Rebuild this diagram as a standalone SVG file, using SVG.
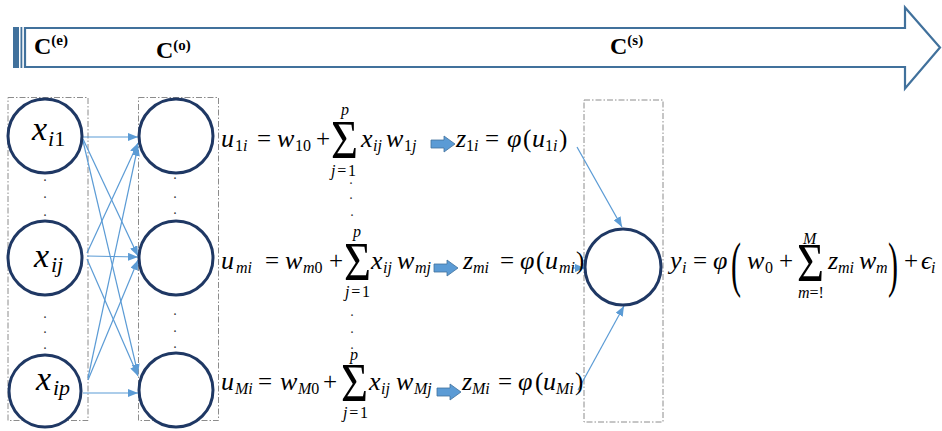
<svg xmlns="http://www.w3.org/2000/svg" width="942" height="431" viewBox="0 0 942 431">
<style>
.band{fill:#fff;stroke:#41719c;stroke-width:2.2;stroke-linejoin:miter}
.stripe{fill:#41719c}
.lbl{font-family:"Liberation Serif",serif;font-weight:bold;fill:#000}
.grp{fill:none;stroke:#8c8c8c;stroke-width:1;stroke-dasharray:6 2 1.5 2}
.node{fill:#fff;stroke:#1f3864;stroke-width:3}
.conn line{stroke:#5b9bd5;stroke-width:1.2;marker-end:url(#ah)}
.mi{font-family:"Liberation Serif","DejaVu Serif",serif;font-style:italic;font-size:26px;fill:#000}
.big{font-family:"Liberation Serif","DejaVu Serif",serif;font-style:italic;font-size:34px;fill:#000}
.bsb{font-family:"Liberation Serif","DejaVu Serif",serif;font-size:22px;fill:#000}
.sb{font-family:"Liberation Serif","DejaVu Serif",serif;font-size:16px;fill:#000}
.it{font-style:italic}
.op{font-family:"Liberation Serif",serif;font-size:25px;fill:#000}
.par{font-family:"Liberation Serif",serif;font-size:62px;fill:#000}
.sig{font-family:"Liberation Serif",serif;font-size:55px;fill:#000}
.lim{font-family:"Liberation Serif","DejaVu Serif",serif;font-size:16px;fill:#000}
.dot{font-family:"Liberation Serif",serif;font-size:14px;fill:#333;text-anchor:middle}
.blk{fill:#5b9bd5;stroke:#41719c;stroke-width:0.8}
</style>
<defs>
<marker id="ah" viewBox="0 0 10 8" refX="10" refY="4" markerWidth="10" markerHeight="8" markerUnits="userSpaceOnUse" orient="auto"><path d="M0,0 L10,4 L0,8 z" fill="#5b9bd5"/></marker>
<path id="blkarrow" d="M0,-4 H13 V-8 L24,0 L13,8 V4 H0 z"/>
</defs>
<rect width="942" height="431" fill="#fff"/>

<g id="timeline">
<rect class="stripe" x="13" y="27" width="6" height="41"/>
<rect class="stripe" x="20.5" y="27" width="1.8" height="41"/>
<path class="band" d="M25,28 H905 V7.5 L940,47.5 L905,88.5 V67 H25 z"/>
<text class="lbl" x="34" y="54" font-size="24">C<tspan font-size="15" dy="-9">(e)</tspan></text>
<text class="lbl" x="156" y="58" font-size="24">C<tspan font-size="15" dy="-8">(o)</tspan></text>
<text class="lbl" x="610" y="54" font-size="24">C<tspan font-size="15" dy="-9">(s)</tspan></text>
</g>

<g id="groups">
<rect class="grp" x="8" y="97.5" width="80" height="323"/>
<rect class="grp" x="138.5" y="97.5" width="80" height="323"/>
<rect class="grp" x="584" y="100" width="79" height="322"/>
</g>

<g id="connectors" class="conn">
<line x1="83" y1="137" x2="138" y2="137"/>
<line x1="83" y1="139" x2="138" y2="256"/>
<line x1="83" y1="141" x2="138" y2="374"/>
<line x1="87" y1="253" x2="138" y2="143"/>
<line x1="87" y1="256" x2="138" y2="257"/>
<line x1="87" y1="259" x2="138" y2="376"/>
<line x1="88" y1="378" x2="138" y2="146"/>
<line x1="88" y1="380" x2="138" y2="260"/>
<line x1="83" y1="393" x2="138" y2="393"/>
<line x1="577" y1="147" x2="622" y2="227"/>
<line x1="572" y1="268" x2="585" y2="268"/>
<line x1="578" y1="390" x2="624" y2="306"/>
</g>

<g id="x_i1"><circle class="node" cx="45" cy="136" r="37"/><text class="big" x="32" y="140">x</text><text class="bsb" x="48" y="146"><tspan class="it">i</tspan>1</text></g>
<g id="x_ij"><circle class="node" cx="45" cy="258" r="37"/><text class="big" x="34" y="267">x</text><text class="bsb it" x="51" y="272">ij</text></g>
<g id="x_ip"><circle class="node" cx="45" cy="391" r="36"/><text class="big" x="36" y="390">x</text><text class="bsb it" x="53" y="395">ip</text></g>
<g id="h_1"><circle class="node" cx="176" cy="136" r="37"/></g>
<g id="h_m"><circle class="node" cx="176" cy="258" r="37"/></g>
<g id="h_M"><circle class="node" cx="176" cy="390" r="37"/></g>
<g id="y_out"><circle class="node" cx="623" cy="267" r="38"/></g>

<g id="dots">
<text class="dot" x="45" y="181">.</text><text class="dot" x="45" y="198">.</text><text class="dot" x="45" y="216">.</text>
<text class="dot" x="45" y="318">.</text><text class="dot" x="45" y="333">.</text><text class="dot" x="45" y="349">.</text>
<text class="dot" x="175" y="179">.</text><text class="dot" x="175" y="198">.</text><text class="dot" x="175" y="214">.</text>
<text class="dot" x="175" y="315">.</text><text class="dot" x="175" y="332">.</text><text class="dot" x="175" y="348">.</text>
<text class="dot" x="351" y="184">.</text><text class="dot" x="351" y="199">.</text><text class="dot" x="352" y="216">.</text>
<text class="dot" x="352" y="316">.</text><text class="dot" x="352" y="333">.</text><text class="dot" x="352" y="349">.</text>
</g>

<g id="eq1">
<text class="mi" x="221" y="147">u</text><text class="sb" x="235" y="151">1<tspan class="it">i</tspan></text>
<text class="op" x="257" y="147">=</text>
<text class="mi" x="277" y="147">w</text><text class="sb" x="295" y="151">10</text>
<text class="op" x="316" y="147">+</text>
<text class="sig" x="331" y="158" textLength="27" lengthAdjust="spacingAndGlyphs">Σ</text>
<text class="lim it" x="341" y="115">p</text>
<text class="lim" x="331" y="176" textLength="25"><tspan class="it">j</tspan>=1</text>
<text class="mi" x="361" y="147">x</text><text class="sb it" x="373" y="151">ij</text>
<text class="mi" x="386" y="147">w</text><text class="sb" x="404" y="151">1<tspan class="it">j</tspan></text>
<use href="#blkarrow" class="blk" transform="translate(431,144)"/>
<text class="mi" x="456" y="147">z</text><text class="sb" x="466" y="151">1<tspan class="it">i</tspan></text>
<text class="op" x="485" y="147">=</text>
<text class="mi" x="507" y="147">φ</text>
<text class="op" x="523" y="147">(</text>
<text class="mi" x="532" y="147">u</text><text class="sb" x="545" y="151">1<tspan class="it">i</tspan></text>
<text class="op" x="559" y="147">)</text>
</g>

<g id="eq2">
<text class="mi" x="221" y="269">u</text><text class="sb it" x="236" y="273">mi</text>
<text class="op" x="265" y="269">=</text>
<text class="mi" x="285" y="269">w</text><text class="sb" x="303" y="273"><tspan class="it">m</tspan>0</text>
<text class="op" x="329" y="269">+</text>
<text class="sig" x="344" y="280" textLength="27" lengthAdjust="spacingAndGlyphs">Σ</text>
<text class="lim it" x="353" y="237">p</text>
<text class="lim" x="345" y="297" textLength="25"><tspan class="it">j</tspan>=1</text>
<text class="mi" x="371" y="269">x</text><text class="sb it" x="383" y="273">ij</text>
<text class="mi" x="397" y="269">w</text><text class="sb it" x="415" y="273">mj</text>
<use href="#blkarrow" class="blk" transform="translate(434,268)"/>
<text class="mi" x="463" y="269">z</text><text class="sb it" x="473" y="273">mi</text>
<text class="op" x="500" y="269">=</text>
<text class="mi" x="520" y="269">φ</text>
<text class="op" x="536" y="269">(</text>
<text class="mi" x="545" y="269">u</text><text class="sb it" x="559" y="273">mi</text>
<text class="op" x="576" y="269">)</text>
</g>

<g id="eq3">
<text class="mi" x="221" y="390">u</text><text class="sb it" x="235" y="394">Mi</text>
<text class="op" x="258" y="390">=</text>
<text class="mi" x="280" y="390">w</text><text class="sb" x="298" y="394"><tspan class="it">M</tspan>0</text>
<text class="op" x="323" y="390">+</text>
<text class="sig" x="341" y="401" textLength="27" lengthAdjust="spacingAndGlyphs">Σ</text>
<text class="lim it" x="350" y="360">p</text>
<text class="lim" x="343" y="418" textLength="25"><tspan class="it">j</tspan>=1</text>
<text class="mi" x="369" y="390">x</text><text class="sb it" x="381" y="394">ij</text>
<text class="mi" x="396" y="390">w</text><text class="sb it" x="414" y="394">Mj</text>
<use href="#blkarrow" class="blk" transform="translate(437,392)"/>
<text class="mi" x="462" y="390">z</text><text class="sb it" x="472" y="394">Mi</text>
<text class="op" x="498" y="390">=</text>
<text class="mi" x="518" y="390">φ</text>
<text class="op" x="535" y="390">(</text>
<text class="mi" x="543" y="390">u</text><text class="sb it" x="556" y="394">Mi</text>
<text class="op" x="575" y="390">)</text>
</g>

<g id="eq_y">
<text class="mi" x="670" y="269">y</text><text class="sb it" x="682" y="273">i</text>
<text class="op" x="693" y="269">=</text>
<text class="mi" x="713" y="269">φ</text>
<text class="par" x="731" y="285" textLength="10" lengthAdjust="spacingAndGlyphs">(</text>
<text class="mi" x="747" y="269">w</text><text class="sb" x="765" y="273">0</text>
<text class="op" x="779" y="269">+</text>
<text class="sig" x="797" y="281" textLength="27" lengthAdjust="spacingAndGlyphs">Σ</text>
<text class="lim it" x="803" y="244" font-size="14">M</text>
<text class="lim" x="798" y="298"><tspan class="it">m</tspan>=!</text>
<text class="mi" x="828" y="269">z</text><text class="sb it" x="838" y="273">mi</text>
<text class="mi" x="859" y="269">w</text><text class="sb it" x="876" y="273">m</text>
<text class="par" x="888" y="285" textLength="10" lengthAdjust="spacingAndGlyphs">)</text>
<text class="op" x="904" y="269">+</text>
<text class="mi" x="921" y="269">ϵ</text><text class="sb it" x="931" y="273">i</text>
</g>
</svg>
